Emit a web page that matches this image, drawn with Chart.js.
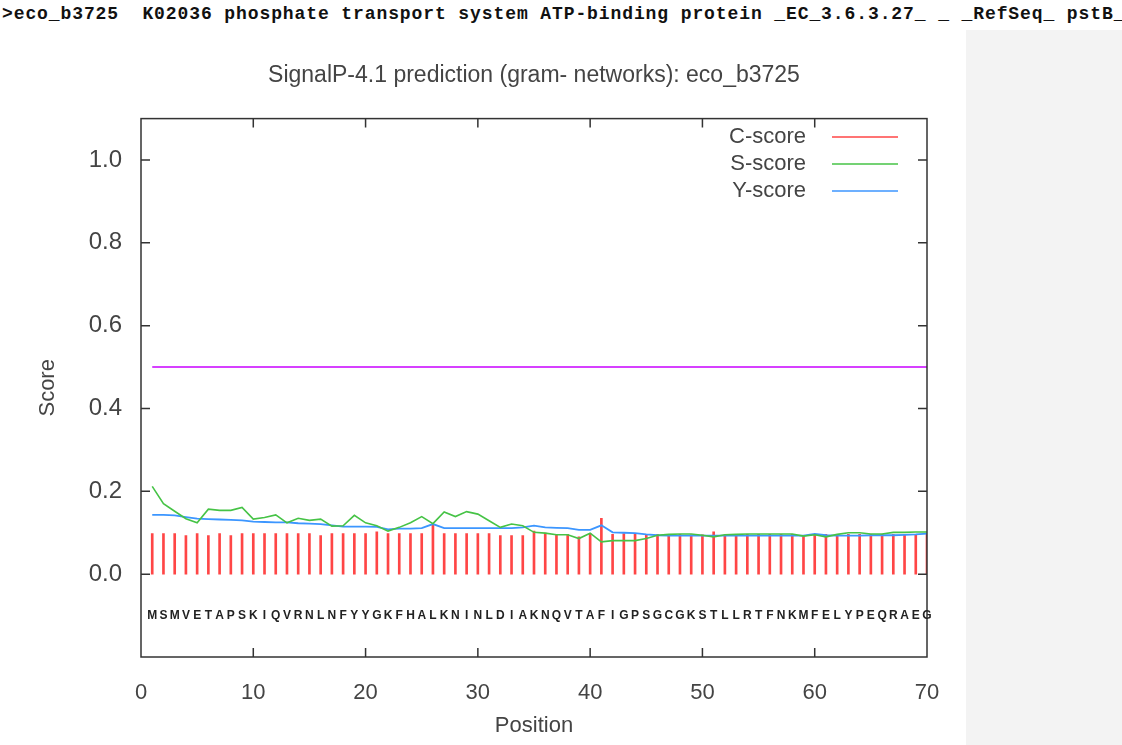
<!DOCTYPE html>
<html>
<head>
<meta charset="utf-8">
<script src="https://cdn.jsdelivr.net/npm/chart.js@4.4.0/dist/chart.umd.min.js"></script>
<style>
  body { margin: 0; background: #fff; width: 1122px; height: 745px; overflow: hidden; position: relative; }
  #header { position: absolute; left: 2px; top: 4px; width: 1120px; overflow: hidden; white-space: pre;
            font: bold 18px "Liberation Mono", monospace; letter-spacing: 0.9px; line-height: 20px; color: #111; }
  #side { position: absolute; left: 966px; top: 30px; width: 156px; height: 715px; background: #f3f3f3; }
  #chart { position: absolute; left: 0; top: 0; }
</style>
</head>
<body>
<div id="header">&gt;eco_b3725  K02036 phosphate transport system ATP-binding protein _EC_3.6.3.27_ _ _RefSeq_ pstB_</div>
<div id="side"></div>
<canvas id="chart" width="1122" height="745"></canvas>
<script>
const chartTitle = 'SignalP-4.1 prediction (gram- networks): eco_b3725';
const residues = 'MSMVETAPSKIQVRNLNFYYGKFHALKNINLDIAKNQVTAFIGPSGCGKSTLLRTFNKMFELYPEQRAEG'.split('');
const positions = residues.map((r, i) => i + 1);

const cScore = [
  0.098, 0.098, 0.098, 0.093, 0.098, 0.093, 0.098, 0.093, 0.098, 0.098,
  0.098, 0.098, 0.098, 0.098, 0.098, 0.093, 0.098, 0.098, 0.098, 0.098,
  0.102, 0.098, 0.098, 0.098, 0.098, 0.120, 0.098, 0.098, 0.098, 0.098,
  0.098, 0.093, 0.093, 0.093, 0.104, 0.099, 0.096, 0.096, 0.090, 0.098,
  0.135, 0.096, 0.098, 0.096, 0.096, 0.096, 0.096, 0.096, 0.095, 0.095,
  0.102, 0.095, 0.096, 0.096, 0.096, 0.096, 0.096, 0.096, 0.094, 0.096,
  0.096, 0.096, 0.096, 0.096, 0.096, 0.096, 0.096, 0.096, 0.096, 0.096
];
const sScore = [
  0.212, 0.170, 0.152, 0.134, 0.124, 0.157, 0.154, 0.154, 0.161, 0.133,
  0.137, 0.143, 0.124, 0.135, 0.130, 0.133, 0.116, 0.117, 0.142, 0.124,
  0.117, 0.104, 0.113, 0.124, 0.139, 0.122, 0.150, 0.139, 0.151, 0.145,
  0.129, 0.113, 0.121, 0.117, 0.101, 0.099, 0.095, 0.095, 0.086, 0.099,
  0.078, 0.081, 0.081, 0.081, 0.086, 0.094, 0.096, 0.097, 0.097, 0.094,
  0.090, 0.095, 0.096, 0.097, 0.097, 0.097, 0.097, 0.097, 0.092, 0.095,
  0.090, 0.096, 0.100, 0.100, 0.097, 0.097, 0.101, 0.101, 0.102, 0.102
];
const yScore = [
  0.143, 0.143, 0.142, 0.138, 0.134, 0.133, 0.132, 0.131, 0.130, 0.127,
  0.126, 0.125, 0.125, 0.123, 0.122, 0.121, 0.118, 0.115, 0.115, 0.115,
  0.114, 0.108, 0.110, 0.110, 0.111, 0.121, 0.111, 0.111, 0.111, 0.111,
  0.111, 0.111, 0.111, 0.113, 0.117, 0.113, 0.112, 0.111, 0.107, 0.107,
  0.118, 0.101, 0.100, 0.099, 0.096, 0.094, 0.093, 0.093, 0.093, 0.093,
  0.093, 0.093, 0.093, 0.093, 0.093, 0.093, 0.093, 0.093, 0.093, 0.097,
  0.094, 0.093, 0.093, 0.093, 0.094, 0.094, 0.094, 0.095, 0.096, 0.098
];
const cutoff = 0.5;
const residueRow = -0.1;   // score level where the sequence letters sit
const yTicks = [0, 0.2, 0.4, 0.6, 0.8, 1.0];
const xTicks = [0, 10, 20, 30, 40, 50, 60, 70];

const red = 'rgb(255,70,70)';
const green = 'rgb(70,195,70)';
const blue = 'rgb(60,150,255)';
const magenta = 'rgb(200,0,255)';
const textColor = '#444';

Chart.defaults.font.family = '"Liberation Sans", Arial, sans-serif';
Chart.defaults.color = textColor;

const toXY = arr => arr.map((v, i) => ({ x: positions[i], y: v }));

// gnuplot style frame: box, inward ticks, residue letters, legend
const framePlugin = {
  id: 'frame',
  afterDraw(chart) {
    const ctx = chart.ctx;
    const a = chart.chartArea;
    const xs = chart.scales.x, ys = chart.scales.y;
    ctx.save();
    ctx.strokeStyle = '#333';
    ctx.lineWidth = 1.5;
    ctx.strokeRect(a.left, a.top, a.right - a.left, a.bottom - a.top);
    ctx.beginPath();
    yTicks.forEach(t => {
      const py = ys.getPixelForValue(t);
      ctx.moveTo(a.left, py); ctx.lineTo(a.left + 9, py);
      ctx.moveTo(a.right, py); ctx.lineTo(a.right - 9, py);
    });
    xTicks.slice(1, -1).forEach(t => {
      const px = xs.getPixelForValue(t);
      ctx.moveTo(px, a.bottom); ctx.lineTo(px, a.bottom - 9);
      ctx.moveTo(px, a.top); ctx.lineTo(px, a.top + 9);
    });
    ctx.stroke();

    ctx.fillStyle = '#222';
    ctx.font = 'bold 12px "Liberation Sans", Arial, sans-serif';
    ctx.textAlign = 'center';
    ctx.textBaseline = 'middle';
    residues.forEach((r, i) => {
      ctx.fillText(r, xs.getPixelForValue(positions[i]), ys.getPixelForValue(residueRow));
    });

    const items = [['C-score', red], ['S-score', green], ['Y-score', blue]];
    ctx.font = '22px "Liberation Sans", Arial, sans-serif';
    ctx.textAlign = 'right';
    ctx.lineWidth = 1.5;
    items.forEach(([label, col], i) => {
      const ly = 137 + i * 27;
      ctx.fillStyle = textColor;
      ctx.fillText(label, 806, ly);
      ctx.strokeStyle = col;
      ctx.beginPath(); ctx.moveTo(832, ly); ctx.lineTo(898, ly); ctx.stroke();
    });
    ctx.restore();
  }
};

new Chart(document.getElementById('chart'), {
  type: 'line',
  data: {
    datasets: [
      { type: 'bar', label: 'C-score', data: toXY(cScore), backgroundColor: red, barThickness: 2, order: 3 },
      { label: 'S-score', data: toXY(sScore), borderColor: green, borderWidth: 1.6, pointRadius: 0, tension: 0, order: 1 },
      { label: 'Y-score', data: toXY(yScore), borderColor: blue, borderWidth: 1.8, pointRadius: 0, tension: 0, order: 2 },
      { label: 'cutoff', data: [{ x: positions[0], y: cutoff }, { x: positions[positions.length - 1], y: cutoff }],
        borderColor: magenta, borderWidth: 1.5, pointRadius: 0, order: 4 }
    ]
  },
  options: {
    responsive: false,
    animation: false,
    layout: { padding: { left: 0, right: 195, top: 0, bottom: 0 } },
    plugins: {
      legend: { display: false },
      tooltip: { enabled: false },
      title: {
        display: true, text: chartTitle, fullSize: false,
        color: textColor, font: { size: 23, weight: 'normal' },
        padding: { top: 62, bottom: 29 }
      }
    },
    scales: {
      x: {
        type: 'linear', min: 0, max: 70, offset: false,
        grid: { display: false }, border: { display: false },
        ticks: { stepSize: 10, padding: 15, font: { size: 22 }, color: textColor },
        afterBuildTicks: s => { s.ticks = xTicks.map(v => ({ value: v })); },
        afterFit: s => { s.height = 88; },
        title: { display: true, text: 'Position', font: { size: 22 }, color: textColor, padding: { top: 0, bottom: 6 } }
      },
      y: {
        min: -0.2, max: 1.1,
        grid: { display: false }, border: { display: false },
        ticks: { padding: 11, font: { size: 24 }, color: textColor, callback: v => v.toFixed(1) },
        afterBuildTicks: s => { s.ticks = yTicks.map(v => ({ value: v })); },
        afterFit: s => { s.width = 141; },
        title: { display: true, text: 'Score', font: { size: 22 }, color: textColor, padding: { top: 35, bottom: 0 } }
      }
    }
  },
  plugins: [framePlugin]
});
</script>
</body>
</html>
